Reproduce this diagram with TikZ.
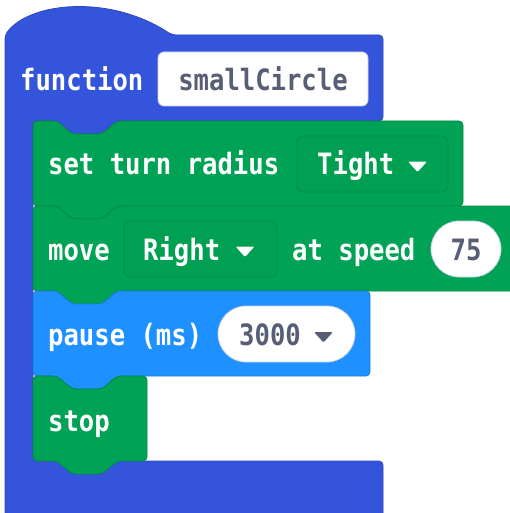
\documentclass[tikz,border=0pt]{standalone}
\usepackage{fontspec}
\newfontfamily\blockfont{DejaVu Sans Mono}[FakeStretch=0.87]
\definecolor{funcblue}{HTML}{3455DB}
\definecolor{funcedge}{HTML}{2C47BE}
\definecolor{blkgreen}{HTML}{00A355}
\definecolor{greenedge}{HTML}{008A45}
\definecolor{ddgreen}{HTML}{00A052}
\definecolor{basicblue}{HTML}{1E90FF}
\definecolor{basicedge}{HTML}{1A7AD9}
\definecolor{fieldtext}{HTML}{575E75}
\definecolor{fieldedge}{HTML}{C9CFE0}
\tikzset{
  lbl/.style={anchor=base west, inner sep=0pt, text=white, font=\blockfont\bfseries\fontsize{29.4}{30}\selectfont},
  fld/.style={anchor=base, inner sep=0pt, text=fieldtext, font=\blockfont\bfseries\fontsize{29.4}{30}\selectfont},
  fldw/.style={lbl, text=fieldtext},
  greenblk/.style={fill=blkgreen, draw=greenedge, line width=0.8pt, rounded corners=4pt},
  blueblk/.style={fill=basicblue, draw=basicedge, line width=0.8pt, rounded corners=4pt},
  ddbox/.style={fill=ddgreen, draw=greenedge, line width=0.8pt, rounded corners=6pt},
  whitebox/.style={fill=white, draw=fieldedge, line width=0.8pt},
}
\begin{document}
\begin{tikzpicture}[x=1pt,y=-1pt]
\useasboundingbox (0,0) rectangle (510,513);
\clip (0,0) rectangle (510,513);
% function block (C shape with hat)
\path[fill=funcblue, draw=funcedge, line width=0.8pt, rounded corners=4pt]
  (5,35) .. controls (30,2) and (110,-6) .. (172,35)
  -- (383,35) -- (383,121) -- (117,121) -- (102,134) -- (72,134) -- (57,121)
  -- (33,121) -- (33,461) -- (383,461) -- (383,530) -- (5,530) -- cycle;
\node[lbl] (fn) at (20,91) {function};
\path[whitebox, rounded corners=6pt] (158,52) rectangle (368,106);
\node[fld] (name) at (263,91) {smallCircle};
% set turn radius
\path[greenblk] (33,121) -- (57,121) -- (72,134) -- (102,134) -- (117,121) -- (463,121)
  -- (463,206) -- (117,206) -- (102,219) -- (72,219) -- (57,206) -- (33,206) -- cycle;
\node[lbl] (set) at (48,175) {set turn radius};
\path[ddbox] (297,136) rectangle (448,192);
\node[lbl] (tight) at (317,175) {Tight};
\fill[white, rounded corners=1.2pt] (408,161.5) -- (427,161.5) -- (417.5,172) -- cycle;
% move
\path[greenblk] (33,206) -- (57,206) -- (72,219) -- (102,219) -- (117,206) -- (530,206)
  -- (530,291) -- (117,291) -- (102,304) -- (72,304) -- (57,291) -- (33,291) -- cycle;
\node[lbl] (move) at (48,260) {move};
\path[ddbox] (124,221) rectangle (277,277);
\node[lbl] (right) at (143,260) {Right};
\fill[white, rounded corners=1.2pt] (235.5,246.5) -- (254.5,246.5) -- (245,257) -- cycle;
\node[lbl] (speed) at (292,260) {at speed};
\path[whitebox, rounded corners=28pt] (431,221) rectangle (501,277);
\node[fld] (v75) at (466,260) {75};
% pause
\path[blueblk] (33,291) -- (57,291) -- (72,304) -- (102,304) -- (117,291) -- (370,291)
  -- (370,376) -- (117,376) -- (102,389) -- (72,389) -- (57,376) -- (33,376) -- cycle;
\node[lbl] (pause) at (48,345) {pause (ms)};
\path[whitebox, rounded corners=28pt] (218,306) rectangle (355,362);
\node[fldw] (v3000) at (239,345) {3000};
\fill[fieldtext, rounded corners=1.2pt] (314,332) -- (333,332) -- (323.5,342.5) -- cycle;
% stop
\path[greenblk] (33,376) -- (57,376) -- (72,389) -- (102,389) -- (117,376) -- (147,376)
  -- (147,461) -- (117,461) -- (102,474) -- (72,474) -- (57,461) -- (33,461) -- cycle;
\node[lbl] (stop) at (48,431) {stop};
\end{tikzpicture}
\end{document}
